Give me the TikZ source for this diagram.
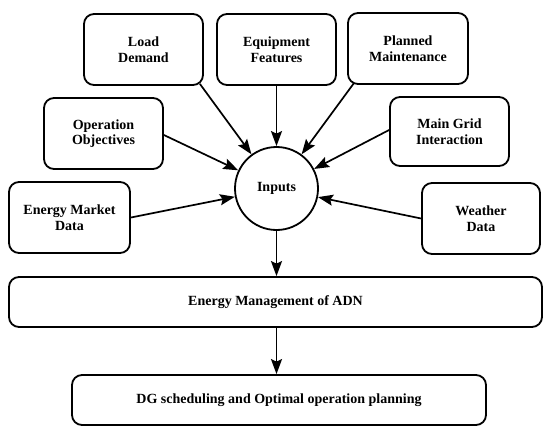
\documentclass[tikz,border=0pt]{standalone}
\usepackage{fontspec}
\setmainfont{Liberation Serif}
\usetikzlibrary{arrows.meta}
\begin{document}
\begin{tikzpicture}[x=1pt,y=-1pt,
  box/.style={draw, line width=1.8pt, rounded corners=10pt, align=center,
    font=\fontsize{14}{15.5}\selectfont\bfseries, inner sep=0pt},
  smallbox/.style={box, minimum width=119pt, minimum height=71pt},
  arr/.style={line width=1.7pt, -{Stealth[length=15pt,width=11pt,inset=2.5pt]}}]
\useasboundingbox (0,0) rectangle (550,434);
\node[smallbox] (ld) at (143.5,49.5) {Load\\Demand};
\node[smallbox] (ef) at (276.5,49.5) {Equipment\\Features};
\node[smallbox, minimum width=120pt] (pm) at (408,48.5) {Planned\\Maintenance};
\node[smallbox] (oo) at (103.5,133.5) {Operation\\Objectives};
\node[smallbox, minimum height=69pt] (mg) at (449.5,131.5) {Main Grid\\Interaction};
\node[smallbox, minimum width=121pt] (em) at (69.5,217.5) {Energy Market\\Data};
\node[smallbox, minimum width=118pt] (wd) at (481,218.5) {Weather\\Data};
\node[draw, circle, line width=1.8pt, minimum size=83pt, inner sep=0pt,
  font=\fontsize{14}{15.5}\selectfont\bfseries] (inp) at (276.5,188.5) {Inputs};
\node[box, minimum width=533pt, minimum height=50pt] (adn) at (275.5,302) {Energy Management of ADN};
\node[box, minimum width=414pt, minimum height=50pt] (dg) at (279,400) {DG scheduling and Optimal operation planning};
\draw[arr] ([xshift=-4pt,yshift=2pt]ld.south east) -- (inp);
\draw[arr] (ef) -- (inp);
\draw[arr] ([xshift=7pt,yshift=2pt]pm.south west) -- (inp);
\draw[arr] ([yshift=-1.5pt]oo.east) -- (inp);
\draw[arr] ([yshift=1.5pt]mg.west) -- (inp);
\draw[arr] (em.east) -- (inp);
\draw[arr] (wd.west) -- (inp);
\draw[arr] (inp.south) -- (inp.south |- adn.north);
\draw[arr] (inp.south |- adn.south) -- (inp.south |- dg.north);
\end{tikzpicture}
\end{document}
